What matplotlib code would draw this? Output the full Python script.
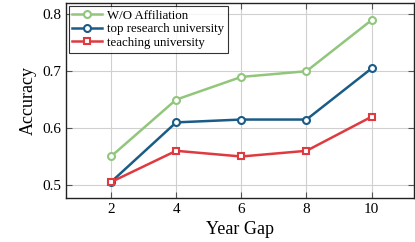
import matplotlib.pyplot as plt

year_gap = [2, 4, 6, 8, 10]
wo_affiliation = [0.55, 0.65, 0.69, 0.70, 0.79]
top_research = [0.505, 0.61, 0.615, 0.615, 0.705]
teaching = [0.505, 0.56, 0.55, 0.56, 0.62]

plt.rcParams['font.family'] = ['Liberation Serif', 'DejaVu Serif']

fig = plt.figure(figsize=(4.15, 2.42), dpi=100)
ax = fig.add_axes([66 / 415, 44 / 242, 348 / 415, 195 / 242])

green = "#92c67c"
blue = "#1b5c87"
red = "#df3a3f"

ax.plot(year_gap, wo_affiliation, color=green, lw=1.8, marker="o", ms=5,
        mfc="white", mec=green, mew=1.5, label="W/O Affiliation")
ax.plot(year_gap, top_research, color=blue, lw=1.8, marker="o", ms=5,
        mfc="white", mec=blue, mew=1.5, label="top research university")
ax.plot(year_gap, teaching, color=red, lw=1.8, marker="s", ms=5,
        mfc="white", mec=red, mew=1.5, label="teaching university")

ax.set_xlim(0.62, 11.3)
ax.set_ylim(0.477, 0.82)
ax.set_xticks(year_gap)
ax.set_yticks([0.5, 0.6, 0.7, 0.8])
ax.set_yticklabels(["0.5", "0.6", "0.7", "0.8"])
ax.grid(color="#d0d0d0", lw=0.8)
ax.set_axisbelow(True)
ax.tick_params(direction="in", top=True, right=True, labelsize=11,
               color="#555555", length=4)
for s in ax.spines.values():
    s.set_color("#222222")
    s.set_linewidth(1.0)

ax.set_xlabel("Year Gap", fontsize=13)
ax.set_ylabel("Accuracy", fontsize=13)

leg = ax.legend(loc="upper left", fontsize=9.3, frameon=True, fancybox=False,
                edgecolor="black", borderpad=0.3, labelspacing=0.12,
                handlelength=2.3, handletextpad=0.4, borderaxespad=0.2)
leg.get_frame().set_linewidth(0.8)

fig.savefig("out.png", dpi=100)
